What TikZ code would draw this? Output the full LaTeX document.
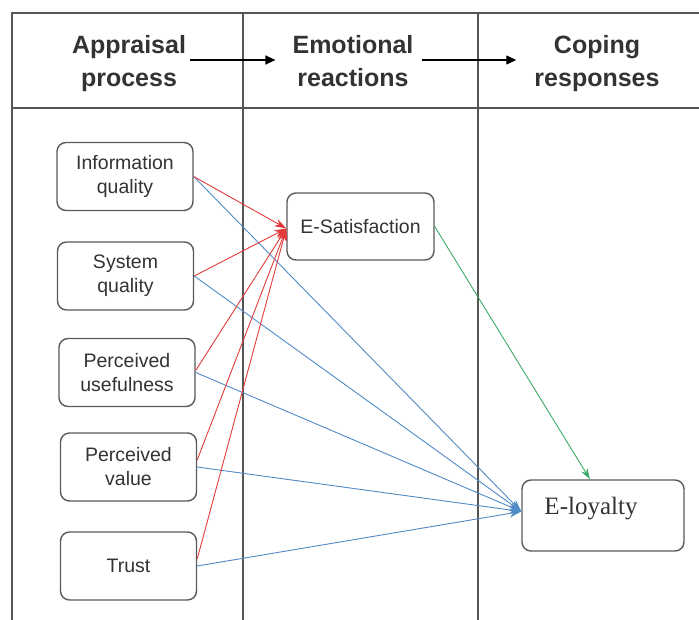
\documentclass[tikz,border=0pt]{standalone}
\usepackage{fontspec}
\setmainfont{Liberation Sans}
\newfontfamily\serifE{Liberation Serif}
\usetikzlibrary{arrows.meta}
\definecolor{txt}{HTML}{333333}
\definecolor{frame}{HTML}{555555}
\definecolor{bord}{HTML}{5A5A5A}
\definecolor{redl}{HTML}{E23B3B}
\definecolor{bluel}{HTML}{4F8BC4}
\definecolor{greenl}{HTML}{3AAA68}
\tikzset{
  tableline/.style={draw=frame, line width=1.2pt},
  hdr/.style={font=\bfseries\fontsize{25}{33}\selectfont, text=txt, align=center, inner sep=0pt},
  hdrarrow/.style={draw=black, line width=1.3pt, -{Triangle[length=10pt,width=9pt]}},
  box/.style={draw=bord, line width=1.4pt, rounded corners=9pt, fill=white,
    minimum width=136pt, minimum height=68pt, align=center, text=txt,
    font=\fontsize{19.5}{24}\selectfont, inner sep=0pt},
  redarrow/.style={draw=redl, line width=0.9pt, -{Stealth[length=12pt,width=8pt]}},
  bluearrow/.style={draw=bluel, line width=0.9pt, -{Stealth[length=12pt,width=8pt]}},
  greenarrow/.style={draw=greenl, line width=0.9pt, -{Stealth[length=11pt,width=7pt]}},
}
\begin{document}
\begin{tikzpicture}[x=1pt,y=-1pt]
\useasboundingbox (0,0) rectangle (699,620);
% table frame
\draw[tableline] (699,13) -- (12,13) -- (12,620);
\draw[tableline] (12,108) -- (699,108);
\draw[tableline] (243,13) -- (243,620);
\draw[tableline] (478,13) -- (478,620);
% headers
\node[hdr] (h1) at (129,63) {\strut Appraisal\\\strut process};
\node[hdr] (h2) at (353,63) {\strut Emotional\\\strut reactions};
\node[hdr] (h3) at (597,63) {\strut Coping\\\strut responses};
\draw[hdrarrow] ([xshift=4pt,yshift=3pt]h1.east) -- ([xshift=-17pt,yshift=3pt]h2.west);
\draw[hdrarrow] ([xshift=8pt,yshift=3pt]h2.east) -- ([xshift=-18pt,yshift=3pt]h3.west);
% boxes
\node[box] (iq) at (125,176.5) {Information\\quality};
\node[box] (sq) at (125.5,276) {System\\quality};
\node[box] (pu) at (127,372.5) {Perceived\\usefulness};
\node[box] (pv) at (128.5,467) {Perceived\\value};
\node[box] (tr) at (128.5,566) {Trust};
\node[box, minimum width=147pt, minimum height=67pt] (es) at (360.5,226.5) {E-Satisfaction};
\node[box, minimum width=162pt, minimum height=71pt, font=\serifE\fontsize{25}{30}\selectfont,
      text height=0pt, text depth=3pt] (el) at (603,515.5) {E-loyalty\hspace{24pt}};
% blue arrows
\draw[bluearrow] (iq.east) -- ([yshift=4pt]el.west);
\draw[bluearrow] (sq.east) -- ([yshift=4pt]el.west);
\draw[bluearrow] (pu.east) -- ([yshift=4pt]el.west);
\draw[bluearrow] (pv.east) -- ([yshift=4pt]el.west);
\draw[bluearrow] (tr.east) -- ([yshift=4pt]el.west);
% red arrows
\draw[redarrow] (iq.east) -- ([yshift=-2pt]es.west);
\draw[redarrow] (sq.east) -- ([yshift=-2pt]es.west);
\draw[redarrow] ([yshift=2pt]pu.east) -- ([yshift=-2pt]es.west);
\draw[redarrow] ([yshift=7pt]pv.east) -- ([yshift=-2pt]es.west);
\draw[redarrow] ([yshift=7pt]tr.east) -- ([yshift=-2pt]es.west);
% green arrow
\draw[greenarrow] (es.east) -- ([xshift=-13pt]el.north);
\end{tikzpicture}
\end{document}
